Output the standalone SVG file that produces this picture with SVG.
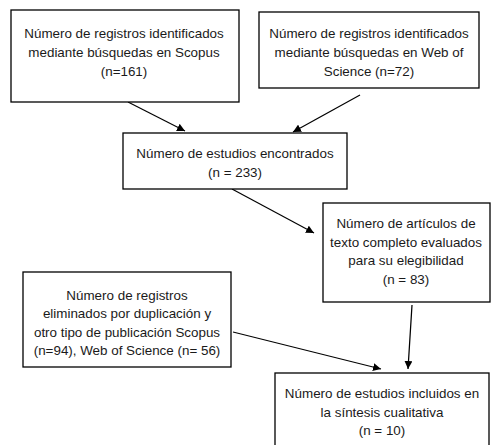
<svg xmlns="http://www.w3.org/2000/svg" width="491" height="445" viewBox="0 0 491 445">
<style>
.box{fill:#fff;stroke:#000;stroke-width:1.3}
.t{font-family:"Liberation Sans",Arial,sans-serif;font-size:13.4px;fill:#1a1a1a;text-anchor:middle}
.c{stroke:#000;stroke-width:1.2;fill:none;marker-end:url(#ah)}
</style>
<defs>
<marker id="ah" viewBox="0 0 10 10" refX="10" refY="5" markerWidth="8" markerHeight="8" markerUnits="userSpaceOnUse" orient="auto">
<path d="M0,0 L10,5 L0,10 z" fill="#000"/>
</marker>
</defs>
<rect width="491" height="445" fill="#fff"/>
<g id="connectors">
<line class="c" x1="128" y1="102" x2="185" y2="131"/>
<line class="c" x1="360" y1="95" x2="293" y2="132"/>
<line class="c" x1="232" y1="189" x2="314" y2="233"/>
<line class="c" x1="412" y1="305" x2="408" y2="369"/>
<line class="c" x1="233" y1="332" x2="381" y2="369"/>
</g>
<g id="n1">
<rect class="box" x="11" y="10" width="228" height="92"/>
<text class="t" x="124" y="38">Número de registros identificados</text>
<text class="t" x="124" y="57">mediante búsquedas en Scopus</text>
<text class="t" x="124" y="75.5">(n=161)</text>
</g>
<g id="n2">
<rect class="box" x="259" y="12" width="220" height="76"/>
<text class="t" x="369" y="38">Número de registros identificados</text>
<text class="t" x="369" y="57">mediante búsquedas en Web of</text>
<text class="t" x="369" y="76">Science (n=72)</text>
</g>
<g id="n3">
<rect class="box" x="123" y="133" width="224" height="56"/>
<text class="t" x="235" y="158">Número de estudios encontrados</text>
<text class="t" x="235" y="177">(n = 233)</text>
</g>
<g id="n4">
<rect class="box" x="323" y="203" width="167" height="99"/>
<text class="t" x="406" y="228">Número de artículos de</text>
<text class="t" x="406" y="247">texto completo evaluados</text>
<text class="t" x="406" y="265">para su elegibilidad</text>
<text class="t" x="406" y="284">(n = 83)</text>
</g>
<g id="n5">
<rect class="box" x="23" y="272" width="208" height="95"/>
<text class="t" x="127" y="300">Número de registros</text>
<text class="t" x="127" y="318">eliminados por duplicación y</text>
<text class="t" x="127" y="337">otro tipo de publicación Scopus</text>
<text class="t" x="127" y="355">(n=94), Web of Science (n= 56)</text>
</g>
<g id="n6">
<rect class="box" x="275" y="373" width="214" height="80"/>
<text class="t" x="382" y="398">Número de estudios incluidos en</text>
<text class="t" x="382" y="417">la síntesis cualitativa</text>
<text class="t" x="382" y="435">(n = 10)</text>
</g>
</svg>
